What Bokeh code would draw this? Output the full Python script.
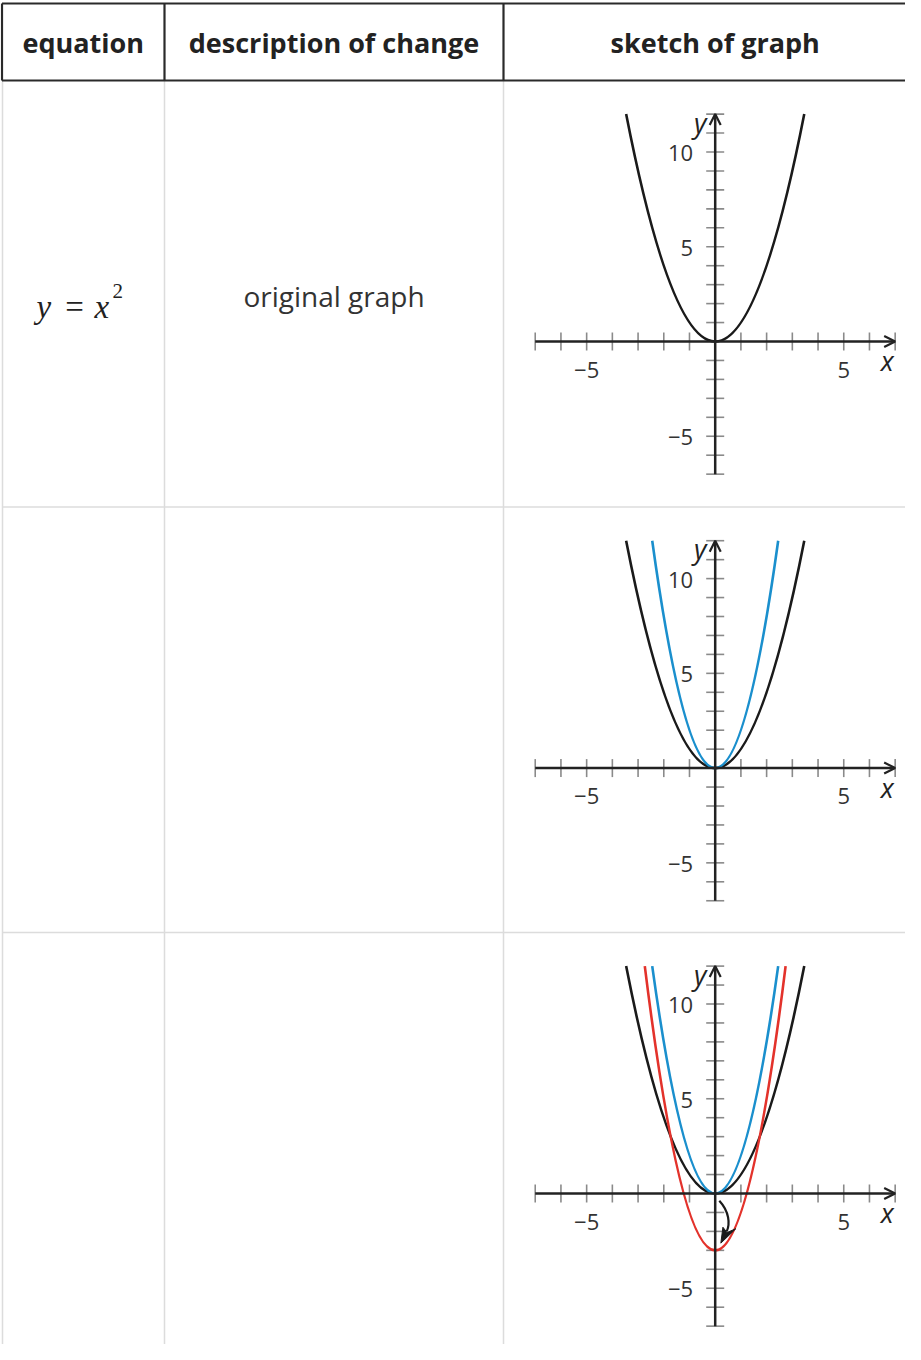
import numpy as np
from bokeh.plotting import figure
from bokeh.models import Range1d, Arrow, OpenHead
from bokeh.core.properties import value
from bokeh.embed import file_html
from bokeh.resources import INLINE

# ---------------- data ----------------
headers = ["equation", "description of change", "sketch of graph"]
descriptions = ["original graph", "", ""]
x_ticks = [-7, -6, -5, -4, -3, -2, -1, 1, 2, 3, 4, 5, 6, 7]
y_ticks = [-7, -6, -5, -4, -3, -2, -1, 1, 2, 3, 4, 5, 6, 7, 8, 9, 10, 11, 12]
x_label_vals = [-5, 5]
x_label_text = ["\u22125", "5"]
y_label_vals = [10, 5, -5]
y_label_text = ["10", "5", "\u22125"]
x_min, x_max = -7, 7
y_min, y_max = -7, 12
# parabolas y = a*x^2 + k
curve_a = [1, 2, 2]
curve_k = [0, 0, -3]
curve_colors = ["#1a1a1a", "#1a8fcd", "#e3322b"]
row_curves = [[0], [0, 1], [0, 1, 2]]
# curved arrow (row 3): shaft bezier and head
arrow_shaft = dict(x0=0.16, y0=-0.38, cx0=0.55, cy0=-0.95, cx1=0.58, cy1=-1.6, x1=0.45, y1=-2.0)
arrow_head_x = [0.22, 0.80, 0.46, 0.30]
arrow_head_y = [-2.62, -1.86, -2.06, -1.78]

# ---------------- layout (screen px) ----------------
W, H = 905, 1344
SX0, SY0 = 8, 8
LEFT, C1, C2, RIGHT = 9.5, 172, 511, 921
HEAD_TOP, HEAD_BOT = 11, 88
ROW_LINES = [514.5, 940]
BOTTOM = 1360
ROW_TOPS = [88, 514.5, 940]
ROW_H = 426
X_ORIGIN = 722.7
PX_X = 25.71
AXIS_Y = [349, 775.6, 1201]
PX_Y = 18.95

p = figure(width=W, height=H, x_range=Range1d(SX0, SX0 + W), y_range=Range1d(SY0 + H, SY0),
           output_backend="svg", toolbar_location=None, x_axis_location=None,
           y_axis_location=None, min_border=0, outline_line_color=None)
p.grid.visible = False
p.background_fill_color = "white"

p.extra_x_ranges = {"gx": Range1d(-(X_ORIGIN - SX0) / PX_X, (SX0 + W - X_ORIGIN) / PX_X)}
p.extra_y_ranges = {f"g{i}": Range1d(-(SY0 + H - ay) / PX_Y, (ay - SY0) / PX_Y)
                    for i, ay in enumerate(AXIS_Y)}

# ---- table lines ----
light = "#dcdcdc"
p.segment(x0=[LEFT + 0.5, C1, C2], y0=[HEAD_BOT] * 3, x1=[LEFT + 0.5, C1, C2], y1=[BOTTOM] * 3,
          line_color=light, line_width=1.5)
p.segment(x0=[LEFT] * 2, y0=ROW_LINES, x1=[RIGHT] * 2, y1=ROW_LINES, line_color=light, line_width=1.5)
dark = "#2a2a2a"
p.segment(x0=[LEFT, LEFT], y0=[HEAD_TOP, HEAD_BOT], x1=[RIGHT, RIGHT], y1=[HEAD_TOP, HEAD_BOT],
          line_color=dark, line_width=2.2)
p.segment(x0=[LEFT, C1, C2], y0=[HEAD_TOP] * 3, x1=[LEFT, C1, C2], y1=[HEAD_BOT] * 3,
          line_color=dark, line_width=2.2)

# ---- header text ----
col_centers = [(LEFT + C1) / 2, (C1 + C2) / 2, X_ORIGIN]
p.text(x=col_centers, y=[(HEAD_TOP + HEAD_BOT) / 2] * 3, text=headers,
       text_font=value("Open Sans"), text_font_style="bold", text_font_size="27px",
       text_color="#222222", text_align="center", text_baseline="middle")

# ---- body text ----
for i, d in enumerate(descriptions):
    if d:
        p.text(x=[(C1 + C2) / 2], y=[ROW_TOPS[i] + ROW_H / 2 + 2], text=[d],
               text_font=value("Open Sans"), text_font_size="28px", text_color="#333333",
               text_align="center", text_baseline="middle")

# equation y = x^2 (row 1)
eq_base = 314
p.text(x=[44], y=[eq_base], text=["y"], text_font=value("Liberation Serif"), text_font_style="italic",
       text_font_size="33px", text_color="#222222", text_align="left", text_baseline="alphabetic")
p.text(x=[82], y=[eq_base], text=["="], text_font=value("Liberation Serif"),
       text_font_size="33px", text_color="#222222", text_align="center", text_baseline="alphabetic")
p.text(x=[102], y=[eq_base], text=["x"], text_font=value("Liberation Serif"), text_font_style="italic",
       text_font_size="33px", text_color="#222222", text_align="left", text_baseline="alphabetic")
p.text(x=[120], y=[eq_base - 16], text=["2"], text_font=value("Liberation Serif"),
       text_font_size="21px", text_color="#222222", text_align="left", text_baseline="alphabetic")

# ---- graphs ----
axis_col = "#222222"
tick_col = "#8a8a8a"
lab_col = "#333333"
for i in range(3):
    yr = f"g{i}"
    # ticks
    p.scatter(x=x_ticks, y=[0] * len(x_ticks), marker="dash", size=18, angle=np.pi / 2,
              line_color=tick_col, line_width=1.6, x_range_name="gx", y_range_name=yr)
    p.scatter(x=[0] * len(y_ticks), y=y_ticks, marker="dash", size=18,
              line_color=tick_col, line_width=1.6, x_range_name="gx", y_range_name=yr)
    # curves
    for c in row_curves[i]:
        a, k = curve_a[c], curve_k[c]
        X = np.sqrt((y_max - k) / a)
        p.quadratic(x0=[-X], y0=[y_max], x1=[X], y1=[y_max], cx=[0], cy=[2 * k - y_max],
                    line_color=curve_colors[c], line_width=2.6, x_range_name="gx", y_range_name=yr)
    # axes with arrow heads
    p.add_layout(Arrow(end=OpenHead(size=11, line_width=2.2, line_color=axis_col),
                       x_start=x_min, y_start=0, x_end=x_max, y_end=0,
                       line_color=axis_col, line_width=2.5, x_range_name="gx", y_range_name=yr))
    p.add_layout(Arrow(end=OpenHead(size=11, line_width=2.2, line_color=axis_col),
                       x_start=0, y_start=y_min, x_end=0, y_end=y_max,
                       line_color=axis_col, line_width=2.5, x_range_name="gx", y_range_name=yr))
    # tick labels
    p.text(x=x_label_vals, y=[0, 0], text=x_label_text, y_offset=28, text_font=value("Open Sans"),
           text_font_size="22px", text_color=lab_col, text_align="center", text_baseline="middle",
           x_range_name="gx", y_range_name=yr)
    p.text(x=[0] * 3, y=y_label_vals, text=y_label_text, x_offset=-22, y_offset=1,
           text_font=value("Open Sans"), text_font_size="22px", text_color=lab_col,
           text_align="right", text_baseline="middle", x_range_name="gx", y_range_name=yr)
    # axis names
    p.text(x=[x_max], y=[0], text=["x"], x_offset=-8, y_offset=19, text_font=value("Open Sans"),
           text_font_style="italic", text_font_size="27px", text_color=axis_col,
           text_align="center", text_baseline="middle", x_range_name="gx", y_range_name=yr)
    p.text(x=[0], y=[y_max], text=["y"], x_offset=-15, y_offset=8, text_font=value("Open Sans"),
           text_font_style="italic", text_font_size="27px", text_color=axis_col,
           text_align="center", text_baseline="middle", x_range_name="gx", y_range_name=yr)

# curved arrow in row 3
p.bezier(x0=[arrow_shaft["x0"]], y0=[arrow_shaft["y0"]], x1=[arrow_shaft["x1"]], y1=[arrow_shaft["y1"]],
         cx0=[arrow_shaft["cx0"]], cy0=[arrow_shaft["cy0"]], cx1=[arrow_shaft["cx1"]], cy1=[arrow_shaft["cy1"]],
         line_color="#1a1a1a", line_width=2.2, x_range_name="gx", y_range_name="g2")
p.patch(x=arrow_head_x, y=arrow_head_y, fill_color="#1a1a1a", line_color="#1a1a1a", line_width=1,
        x_range_name="gx", y_range_name="g2")

open("out.html", "w").write(file_html(p, INLINE))
